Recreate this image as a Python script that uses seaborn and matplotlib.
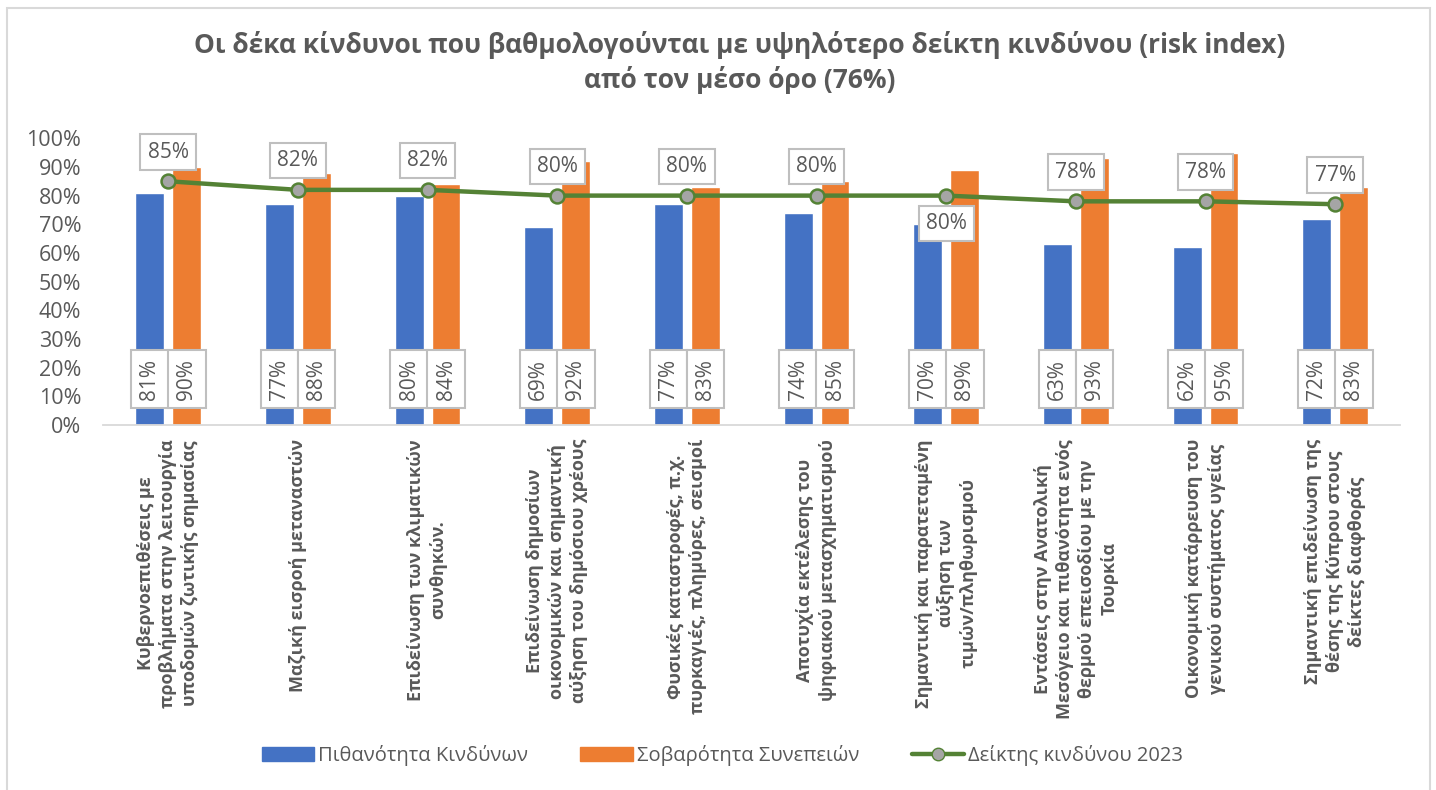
"""
Risk index chart: probability vs severity bars with the 2023 risk index line.
"""

import matplotlib.pyplot as plt
import numpy as np
import pandas as pd
import seaborn as sns
from matplotlib.lines import Line2D
from matplotlib.patches import Patch, Rectangle

# Data (percent).
categories = [
    "Κυβερνοεπιθέσεις με\nπροβλήματα στην λειτουργία\nυποδομών ζωτικής σημασίας",
    "Μαζική εισροή μεταναστών",
    "Επιδείνωση των κλιματικών\nσυνθηκών.",
    "Επιδείνωση δημοσίων\nοικονομικών και σημαντική\nαύξηση του δημόσιου χρέους",
    "Φυσικές καταστροφές, π.χ.\nπυρκαγιές, πλημύρες, σεισμοί",
    "Αποτυχία εκτέλεσης του\nψηφιακού μετασχηματισμού",
    "Σημαντική και παρατεταμένη\nαύξηση των\nτιμών/πληθωρισμού",
    "Εντάσεις στην Ανατολική\nΜεσόγειο και πιθανότητα ενός\nθερμού επεισοδίου με την\nΤουρκία",
    "Οικονομική κατάρρευση του\nγενικού συστήματος υγείας",
    "Σημαντική επιδείνωση της\nθέσης της Κύπρου στους\nδείκτες διαφθοράς",
]
probability = [81, 77, 80, 69, 77, 74, 70, 63, 62, 72]
severity = [90, 88, 84, 92, 83, 85, 89, 93, 95, 83]
risk_index = [85, 82, 82, 80, 80, 80, 80, 78, 78, 77]

series_names = ["Πιθανότητα Κινδύνων", "Σοβαρότητα Συνεπειών"]
line_name = "Δείκτης κινδύνου 2023"

blue = "#4472C4"
orange = "#ED7D31"
green = "#548235"
grey_text = "#595959"
box_edge = "#BFBFBF"

sns.set_theme(style="white")
plt.rcParams["font.family"] = ["Open Sans", "DejaVu Sans"]

df = pd.DataFrame({
    "category": categories * 2,
    "value": np.array(probability + severity) / 100,
    "series": [series_names[0]] * len(categories) + [series_names[1]] * len(categories),
})

fig = plt.figure(figsize=(14.36, 7.9), dpi=100)
ax = fig.add_axes([0.072, 0.462, 0.903, 0.363])

sns.barplot(data=df, x="category", y="value", hue="series",
            palette=[blue, orange], width=0.57, gap=0.22,
            saturation=1, legend=False, ax=ax)

x = np.arange(len(categories))
sns.lineplot(x=x, y=np.array(risk_index) / 100, color=green, linewidth=3.2,
             marker="o", markersize=10, markerfacecolor="#A5A5A5",
             markeredgecolor=green, markeredgewidth=1.8, ax=ax, zorder=5)

# bar labels at the base of each bar
box = dict(boxstyle="square,pad=0.4", fc="white", ec=box_edge, lw=1.5)
for container in ax.containers:
    for bar in container:
        ax.text(bar.get_x() + bar.get_width() / 2, 0.16,
                f"{bar.get_height() * 100:.0f}%", rotation=90,
                ha="center", va="center", fontsize=15, color=grey_text,
                bbox=box, zorder=6)

# risk index labels above the points (one below)
for i, v in enumerate(risk_index):
    dy = -20 if i == 6 else 21
    ax.annotate(f"{v}%", (i, v / 100), xytext=(0, dy), textcoords="offset points",
                ha="center", va="center", fontsize=15, color=grey_text,
                bbox=dict(boxstyle="square,pad=0.35", fc="white", ec=box_edge, lw=1.5),
                zorder=7)

ax.set_xlim(-0.5, len(categories) - 0.5)
ax.set_ylim(0, 1.0)
ax.set_yticks(np.arange(0, 1.01, 0.1))
ax.set_yticklabels([f"{t}%" for t in range(0, 101, 10)], fontsize=15.5, color=grey_text)
ax.set_xticks(x)
ax.set_xticklabels(categories, rotation=90, fontsize=13, fontweight="bold",
                   color=grey_text, va="top", ha="center", multialignment="center",
                   linespacing=1.3)
ax.tick_params(axis="x", length=0, pad=10)
ax.tick_params(axis="y", length=0, pad=16)
ax.set_xlabel("")
ax.set_ylabel("")
for side in ["top", "right", "left"]:
    ax.spines[side].set_visible(False)
ax.spines["bottom"].set_color("#D9D9D9")
ax.spines["bottom"].set_linewidth(1.3)

fig.text(0.515, 0.921, "Οι δέκα κίνδυνοι που βαθμολογούνται με υψηλότερο δείκτη κινδύνου (risk index)\nαπό τον μέσο όρο (76%)",
         ha="center", va="center", fontsize=19, fontweight="bold", color=grey_text,
         linespacing=1.35)

handles = [
    Patch(color=blue, label=series_names[0]),
    Patch(color=orange, label=series_names[1]),
    Line2D([], [], color=green, linewidth=3.2, marker="o", markersize=9,
           markerfacecolor="#A5A5A5", markeredgecolor=green, label=line_name),
]
leg = fig.legend(handles=handles, loc="center", bbox_to_anchor=(0.503, 0.044),
                 ncol=3, frameon=False, fontsize=14.5, handlelength=2.6,
                 handletextpad=0.2, columnspacing=2.6)
for t in leg.get_texts():
    t.set_color(grey_text)

# chart area border
fig.patches.append(Rectangle((0.005, -0.01), 0.991, 1.0, transform=fig.transFigure,
                             fill=False, ec="#D9D9D9", lw=1.5))

plt.savefig("out.png", dpi=100)
